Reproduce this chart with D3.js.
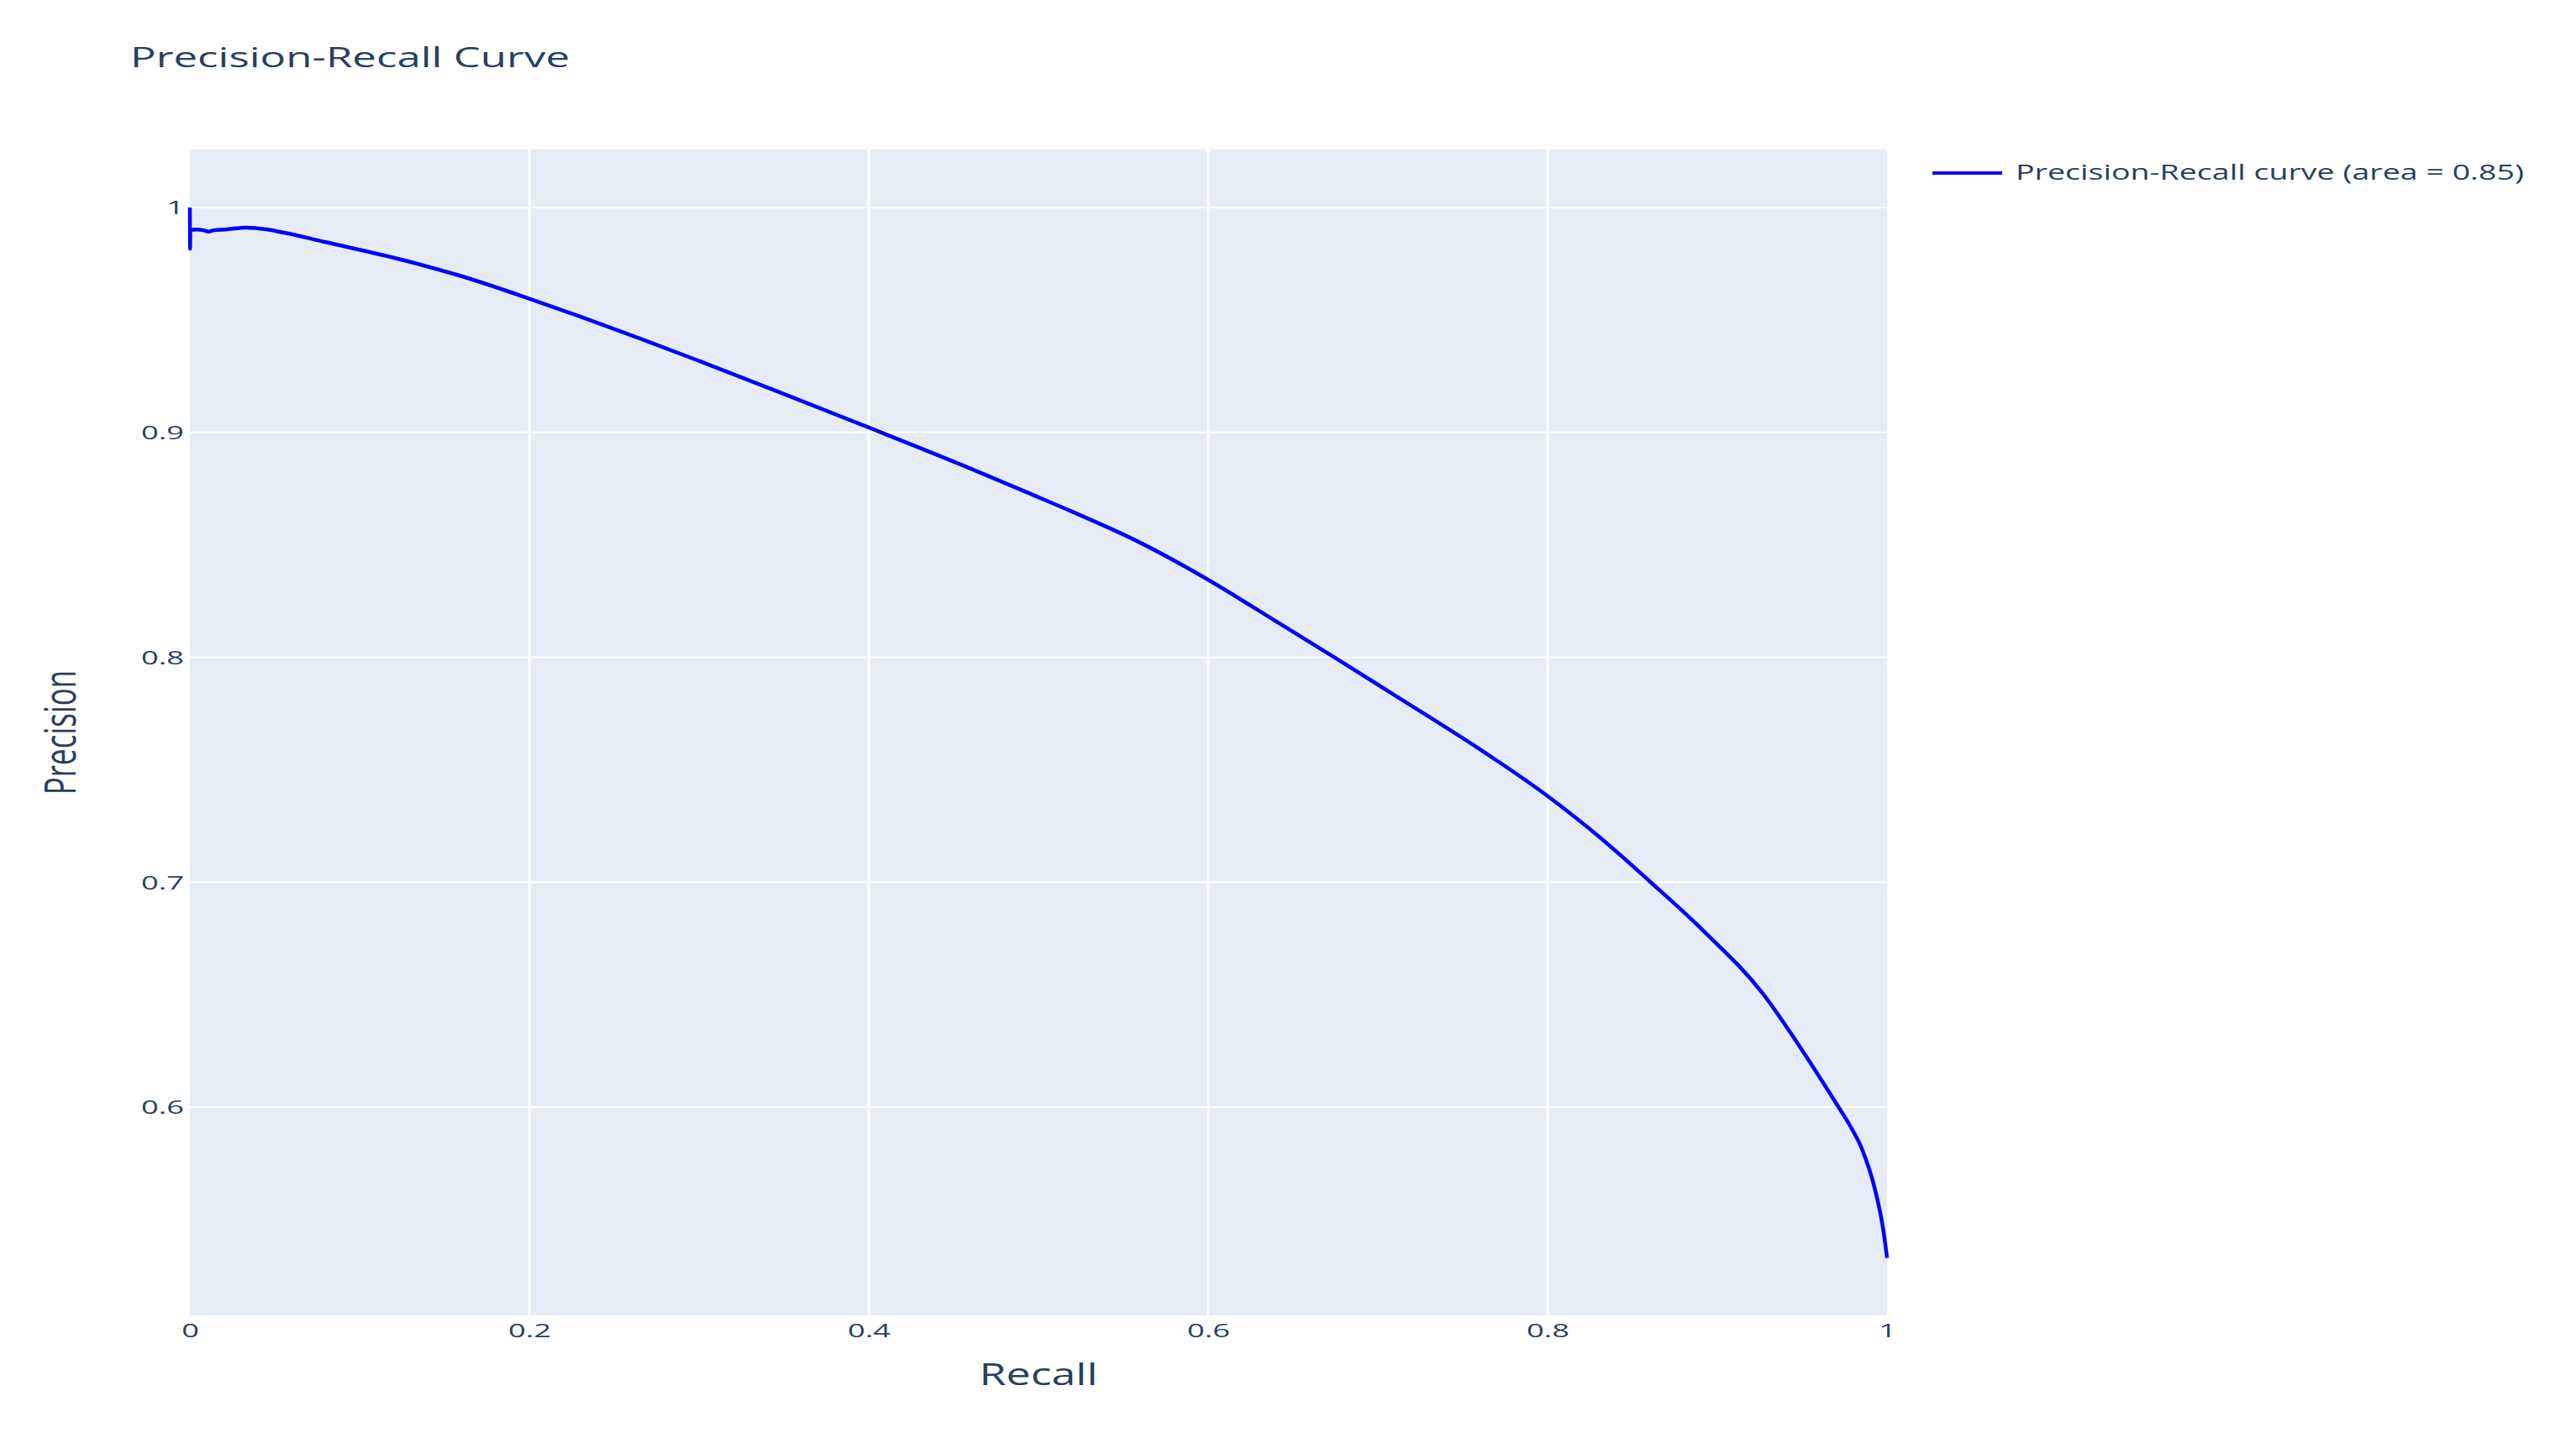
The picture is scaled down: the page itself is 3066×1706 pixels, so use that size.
<!DOCTYPE html>
<html>
<head>
<meta charset="utf-8">
<title>Precision-Recall Curve</title>
<script src="https://cdn.jsdelivr.net/npm/d3@7"></script>
<style>
    html, body { margin: 0; padding: 0; background: #ffffff; overflow: hidden; }
    #chart text { font-family: "Open Sans", Verdana, Arial, sans-serif; fill: #2a3f5f; }
</style>
</head>
<body>
<div id="chart"></div>
<script>
// values
var recall = [0, 0.0001, 0.0003, 0.004, 0.008, 0.011, 0.014, 0.022, 0.033, 0.045, 0.055,
    0.08, 0.12, 0.16, 0.2, 0.23, 0.268, 0.3, 0.347, 0.4, 0.455, 0.495, 0.534, 0.554,
    0.6, 0.64, 0.675, 0.71, 0.753, 0.8, 0.832, 0.86, 0.891, 0.927, 0.951, 0.97, 0.978,
    0.985, 0.993, 0.998, 1.0];
var precision = [1.0, 0.9817, 0.990, 0.9902, 0.9899, 0.9893, 0.9899, 0.9903, 0.9911, 0.9903, 0.9889,
    0.9846, 0.9777, 0.9695, 0.9595, 0.9515, 0.941, 0.9318, 0.918, 0.9022, 0.8855, 0.8728, 0.8601, 0.8532,
    0.8345, 0.816, 0.7997, 0.7831, 0.7626, 0.7383, 0.7192, 0.7005, 0.679, 0.6503, 0.6241, 0.6017, 0.592,
    0.5818, 0.5631, 0.5444, 0.533];
var xTicks = [0, 0.2, 0.4, 0.6, 0.8, 1];
var yTicks = [0.6, 0.7, 0.8, 0.9, 1];
var legendLabel = "Precision-Recall curve (area = 0.85)";

function init() {
    var w = 3066;
    var h = 1706;
    var plot = { left: 226, right: 2246, top: 178, bottom: 1566 };
    var stretch = 1.65;   // the picture is wider than it is tall

    var dataset = recall.map(function(r, i) {
        return { recall: r, precision: precision[i] };
    });

    var xScale = d3.scaleLinear()
        .domain([0, 1])
        .range([plot.left, plot.right]);

    var yScale = d3.scaleLinear()
        .domain([0.5074, 1.0258])
        .range([plot.bottom, plot.top]);

    var svg = d3.select("#chart")
        .append("svg")
        .attr("width", w)
        .attr("height", h);

    // plot background
    svg.append("rect")
        .attr("x", plot.left)
        .attr("y", plot.top)
        .attr("width", plot.right - plot.left)
        .attr("height", plot.bottom - plot.top)
        .attr("fill", "#E5ECF6");

    // grid lines
    svg.append("g")
        .selectAll("line")
        .data(xTicks.slice(1, -1))
        .enter()
        .append("line")
        .attr("x1", function(d) { return xScale(d); })
        .attr("x2", function(d) { return xScale(d); })
        .attr("y1", plot.top)
        .attr("y2", plot.bottom)
        .attr("stroke", "#ffffff")
        .attr("stroke-width", 3);

    svg.append("g")
        .selectAll("line")
        .data(yTicks)
        .enter()
        .append("line")
        .attr("x1", plot.left)
        .attr("x2", plot.right)
        .attr("y1", function(d) { return yScale(d); })
        .attr("y2", function(d) { return yScale(d); })
        .attr("stroke", "#ffffff")
        .attr("stroke-width", 2);

    // axes
    var xAxis = d3.axisBottom(xScale)
        .tickValues(xTicks)
        .tickSize(0)
        .tickPadding(0)
        .tickFormat(d3.format("~g"));

    var gx = svg.append("g")
        .attr("transform", "translate(0," + plot.bottom + ")")
        .call(xAxis);
    gx.select(".domain").remove();
    gx.selectAll("text")
        .attr("y", 26)
        .attr("dy", null)
        .attr("font-size", 22)
        .attr("transform", "scale(" + stretch + ",1)");

    var yAxis = d3.axisLeft(yScale)
        .tickValues(yTicks)
        .tickSize(0)
        .tickPadding(0)
        .tickFormat(d3.format("~g"));

    var gy = svg.append("g")
        .attr("transform", "translate(" + plot.left + ",0)")
        .call(yAxis);
    gy.select(".domain").remove();
    gy.selectAll("text")
        .attr("x", -7 / stretch)
        .attr("dy", "0.35em")
        .attr("font-size", 22)
        .attr("transform", "scale(" + stretch + ",1)");

    // curve
    var line = d3.line()
        .x(function(d) { return xScale(d.recall); })
        .y(function(d) { return yScale(d.precision); })
        .curve(d3.curveMonotoneX);

    svg.append("path")
        .datum(dataset)
        .attr("d", line)
        .attr("fill", "none")
        .attr("stroke", "#0000ff")
        .attr("stroke-width", 4.5)
        .attr("stroke-linejoin", "round");

    // title
    svg.append("text")
        .attr("x", 155)
        .attr("y", 80)
        .attr("font-size", 32)
        .attr("textLength", 523)
        .attr("lengthAdjust", "spacingAndGlyphs")
        .text("Precision-Recall Curve");

    // axis titles
    svg.append("text")
        .attr("x", (plot.left + plot.right) / 2 - 70.5)
        .attr("y", 1649)
        .attr("font-size", 37)
        .attr("textLength", 141)
        .attr("lengthAdjust", "spacingAndGlyphs")
        .text("Recall");

    svg.append("text")
        .attr("transform", "translate(90," + (plot.top + plot.bottom) / 2 + ") scale(1.46,1) rotate(-90)")
        .attr("text-anchor", "middle")
        .attr("font-size", 35)
        .text("Precision");

    // legend
    var legend = svg.append("g");
    legend.append("line")
        .attr("x1", 2300)
        .attr("x2", 2383)
        .attr("y1", 206)
        .attr("y2", 206)
        .attr("stroke", "#0000ff")
        .attr("stroke-width", 4);
    legend.append("text")
        .attr("x", 2399)
        .attr("y", 214)
        .attr("font-size", 25)
        .attr("textLength", 605)
        .attr("lengthAdjust", "spacingAndGlyphs")
        .text(legendLabel);
}

window.onload = init;
</script>
</body>
</html>
